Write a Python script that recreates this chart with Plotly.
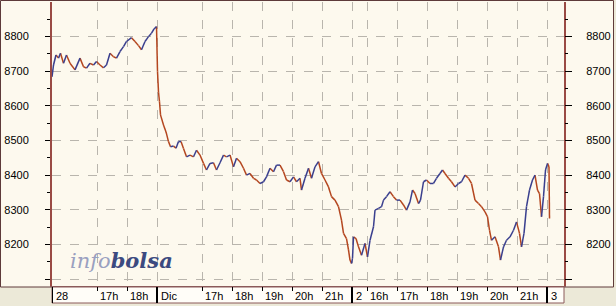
import plotly.graph_objects as go

# ---- data (x = trading minutes elapsed since first session open, 15:30) ----
minutes = [0, 3, 8, 13, 17, 23, 29, 36, 46, 56, 63, 69, 76, 83, 89, 96, 103, 109, 116, 123,
           129, 136, 143, 149, 159, 166, 173, 179, 186, 193, 199, 204, 209,
           211, 213, 215, 217, 223, 228, 233, 237, 243, 248, 253, 258, 263, 269, 276, 283, 289,
           296, 303, 309, 316, 323, 329, 336, 343, 349, 356, 363, 369, 376, 383, 389, 396, 403,
           409, 416, 423, 429, 436, 443, 449, 456, 463, 469, 476, 483, 489, 496, 499, 506, 513,
           519, 526, 533, 539, 546, 553, 559, 566, 573, 579, 583, 589, 593, 596, 599,
           601, 603, 608, 613, 619, 626, 631, 636, 643, 646, 653, 659, 663, 669, 676, 683, 689,
           696, 703, 709, 716, 721, 726, 733, 737, 743, 749, 756, 763, 769, 776, 781, 786, 793,
           799, 806, 813, 819, 826, 833, 839, 846, 853, 859, 866, 871, 875, 879, 886, 893, 897,
           903, 909, 916, 923, 929, 935, 939, 944, 949, 955, 961, 966, 971, 975, 979, 983, 987,
           991, 994, 995]
values = [8684, 8718, 8747, 8738, 8752, 8723, 8747, 8723, 8704, 8738, 8713, 8709, 8723, 8718, 8728,
          8718, 8710, 8718, 8752, 8742, 8738, 8757, 8771, 8786, 8797, 8786, 8774, 8762, 8786, 8800,
          8810, 8822, 8829,
          8700, 8640, 8612, 8574, 8545, 8525, 8497, 8482, 8484, 8478, 8497, 8497, 8477, 8453, 8458,
          8453, 8472, 8458, 8434, 8415, 8434, 8436, 8415, 8436, 8458, 8453, 8458, 8424, 8449, 8439,
          8420, 8400, 8405, 8391, 8386, 8376, 8381, 8395, 8420, 8410, 8429, 8429, 8410, 8386, 8381,
          8395, 8381, 8391, 8357, 8391, 8420, 8391, 8424, 8439, 8405, 8386, 8366, 8338, 8328, 8309,
          8270, 8232, 8217, 8184, 8155, 8145,
          8160, 8222, 8217, 8193, 8169, 8203, 8164, 8212, 8251, 8299, 8304, 8309, 8328, 8338, 8352,
          8338, 8328, 8328, 8314, 8299, 8323, 8357, 8347, 8318, 8328, 8381, 8386, 8376, 8376, 8391,
          8405, 8415, 8405, 8391, 8381, 8366, 8376, 8381, 8400, 8391, 8376, 8328, 8318, 8309, 8294,
          8280, 8241, 8212, 8222, 8193, 8155, 8193, 8212, 8222, 8241, 8265, 8232, 8193, 8232, 8309,
          8357, 8386, 8400, 8357, 8347, 8280, 8338, 8415, 8434,
          8424, 8275]

tick_pos = [0, 90, 150, 210, 300, 360, 420, 480, 540, 600, 630, 690, 750, 810, 870, 930, 990]
tick_text = ["28", "17h", "18h", "Dic", "17h", "18h", "19h", "20h", "21h",
             "2", "16h", "17h", "18h", "19h", "20h", "21h", "3"]
day_starts = [0, 210, 600, 990]
y_ticks = [8100, 8200, 8300, 8400, 8500, 8600, 8700, 8800]
y_labels = ["", "8200", "8300", "8400", "8500", "8600", "8700", "8800"]
y_minor = [8150, 8250, 8350, 8450, 8550, 8650, 8750, 8850]

# ---- build colored segments (up = blue, down = red) ----
ux, uy, dx, dy = [], [], [], []
for i in range(1, len(values)):
    if values[i] >= values[i - 1]:
        ux += [minutes[i - 1], minutes[i], None]
        uy += [values[i - 1], values[i], None]
    else:
        dx += [minutes[i - 1], minutes[i], None]
        dy += [values[i - 1], values[i], None]

BLUE = "#3a3f8e"
RED = "#b4461f"
CREAM = "#fdf9ee"
GRID = "#b9b5ad"
BORDER = "#9a4a44"

fig = go.Figure()
fig.add_trace(go.Scatter(x=dx, y=dy, mode="lines", line=dict(color=RED, width=1.5),
                         hoverinfo="skip", showlegend=False))
fig.add_trace(go.Scatter(x=ux, y=uy, mode="lines", line=dict(color=BLUE, width=1.5),
                         hoverinfo="skip", showlegend=False))
fig.add_trace(go.Scatter(x=[None], y=[None], yaxis="y2", showlegend=False))

W, H = 616, 306
L, R, T, B = 52, 52, 2, 20
PH = H - T - B
PW = W - L - R


def py(p):  # pixel y -> paper y
    return (H - B - p) / PH


def px(p):  # pixel x -> paper x
    return (p - L) / PW


font = dict(family="Liberation Sans, Arial, sans-serif", size=11, color="#000000")

yrange = [8080, 8900]
fig.update_layout(
    width=W, height=H,
    margin=dict(l=L, r=R, t=T, b=B),
    paper_bgcolor="#ece9d8",
    plot_bgcolor=CREAM,
    font=font,
    xaxis=dict(range=[0, 1024], tickvals=tick_pos, showticklabels=False,
               ticks="outside", ticklen=4, tickcolor="#000000",
               showgrid=True, gridcolor=GRID, griddash="dash", gridwidth=1,
               showline=True, linecolor="#8b5a5a", linewidth=1, zeroline=False),
    yaxis=dict(range=yrange, tickvals=y_ticks, ticktext=y_labels, ticks="outside", ticklen=5,
               tickcolor="#000000", ticklabelstandoff=14,
               minor=dict(tickvals=y_minor, ticks="outside", ticklen=3, tickcolor="#000000",
                          showgrid=False),
               showgrid=True, gridcolor=GRID, griddash="dash", gridwidth=1,
               showline=True, linecolor=BORDER, linewidth=2, mirror=True, zeroline=False),
    yaxis2=dict(range=yrange, overlaying="y", side="right", tickvals=y_ticks, ticktext=y_labels,
                ticks="outside", ticklen=7, tickcolor="#000000", ticklabelstandoff=12,
                minor=dict(tickvals=y_minor, ticks="outside", ticklen=3, tickcolor="#000000",
                           showgrid=False),
                showgrid=False, showline=False, zeroline=False),
)

shapes = []
# outer frame (cream panel holding plot and y labels)
shapes.append(dict(type="rect", xref="paper", yref="paper", x0=px(0.5), x1=px(613.5),
                   y0=py(287), y1=py(0.5), fillcolor=CREAM,
                   line=dict(color="#5e3a3a", width=1), layer="below"))
# time strip
shapes.append(dict(type="rect", xref="paper", yref="paper", x0=0, x1=1,
                   y0=py(303), y1=py(287), fillcolor="#fffdf8",
                   line=dict(color="#8b5a5a", width=1), layer="below"))
for d in day_starts:
    shapes.append(dict(type="line", xref="x", yref="paper", x0=d, x1=d,
                       y0=py(303), y1=py(287), line=dict(color="#000000", width=2)))
fig.update_layout(shapes=shapes)

ann = []
for pos, txt in zip(tick_pos, tick_text):
    ann.append(dict(x=pos, xref="x", y=py(295.5), yref="paper", text=txt,
                    xanchor="left", yanchor="middle", showarrow=False,
                    xshift=2 if pos in day_starts else 1, font=font))
ann.append(dict(x=px(68), xref="paper", y=py(260), yref="paper", showarrow=False,
                xanchor="left", yanchor="middle",
                text="<span style='font-family:DejaVu Serif;font-style:italic;color:#9aa0c0'>info</span>"
                     "<span style='font-family:DejaVu Serif;font-style:italic;font-weight:bold;color:#3c4a80'>bolsa</span>",
                font=dict(family="DejaVu Serif", size=21)))
fig.update_layout(annotations=ann)

fig.write_html("out.html")
